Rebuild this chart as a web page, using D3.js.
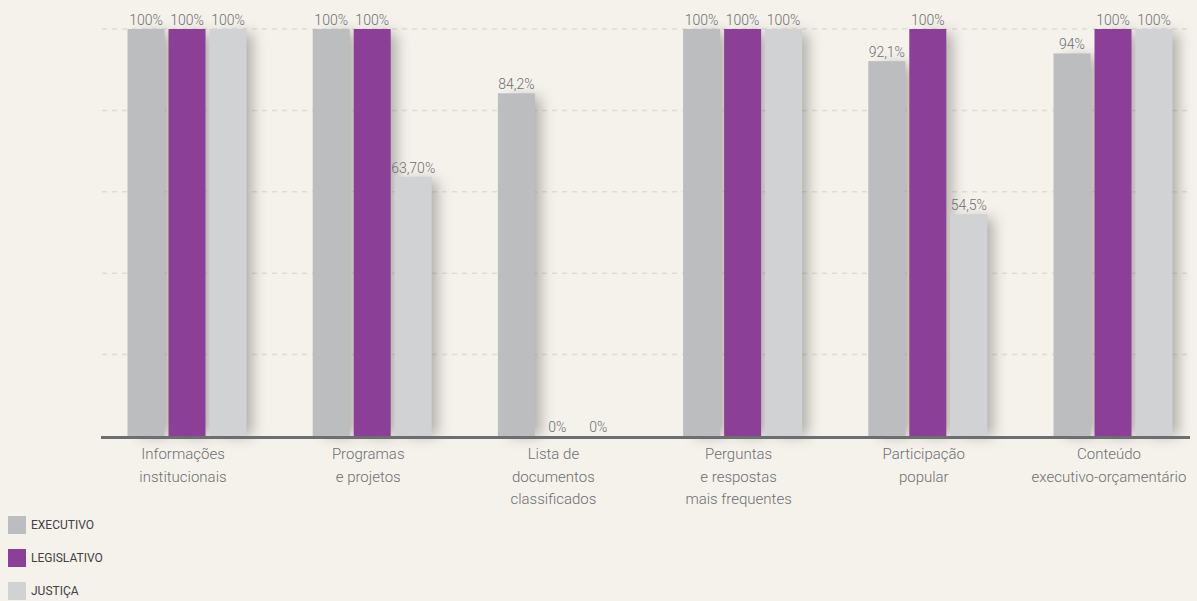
<!DOCTYPE html>
<html>
<head>
<meta charset="utf-8">
<script src="https://cdnjs.cloudflare.com/ajax/libs/d3/7.8.5/d3.min.js"></script>
<style>
    body { margin: 0; background: #f5f2ec; }
    #chart { width: 1197px; height: 601px; }
    text { font-family: Roboto, "Noto Sans", sans-serif; }
</style>
</head>
<body>
<div id="chart"></div>
<script>

// data
const categories = [
    "Informações\ninstitucionais",
    "Programas\ne projetos",
    "Lista de\ndocumentos\nclassificados",
    "Perguntas\ne respostas\nmais frequentes",
    "Participação\npopular",
    "Conteúdo\nexecutivo-orçamentário"
];
const seriesNames = ["EXECUTIVO", "LEGISLATIVO", "JUSTIÇA"];
const executivo = [100, 100, 84.2, 100, 92.1, 94];
const legislativo = [100, 100, 0, 100, 100, 100];
const justica = [100, 63.7, 0, 100, 54.5, 100];
const executivoLabels = ["100%", "100%", "84,2%", "100%", "92,1%", "94%"];
const legislativoLabels = ["100%", "100%", "0%", "100%", "100%", "100%"];
const justicaLabels = ["100%", "63,70%", "0%", "100%", "54,5%", "100%"];
const gridTicks = [20, 40, 60, 80, 100];
const seriesColors = ["#bcbdbf", "#8c3f96", "#d1d2d4"];


class GroupedBarVis {

    constructor(parentElement){
        this.parentElement = parentElement;
        this.initVis();
    }

    initVis(){
        let vis = this;

        vis.width = 1197;
        vis.height = 601;

        vis.svg = d3.select("#" + vis.parentElement).append("svg")
            .attr("width", vis.width)
            .attr("height", vis.height);

        // soft shadow to the right of the bars
        let defs = vis.svg.append("defs");
        let f = defs.append("filter")
            .attr("id", "barShadow")
            .attr("x", "-30%").attr("y", "-10%")
            .attr("width", "220%").attr("height", "130%");
        f.append("feGaussianBlur").attr("stdDeviation", 7);

        // scales
        vis.x = d3.scalePoint()
            .domain(categories)
            .range([187, 1113]);

        vis.xInner = d3.scaleBand()
            .domain(seriesNames)
            .range([-59.5, 59.5])
            .paddingInner(4 / 41);

        vis.y = d3.scaleLinear()
            .domain([0, 100])
            .range([436, 29]);

        vis.color = d3.scaleOrdinal()
            .domain(seriesNames)
            .range(seriesColors);

        vis.wrangleData();
    }

    wrangleData(){
        let vis = this;

        let values = [executivo, legislativo, justica];
        let labels = [executivoLabels, legislativoLabels, justicaLabels];

        vis.bars = [];
        categories.forEach((cat, i) => {
            seriesNames.forEach((s, j) => {
                vis.bars.push({
                    category: cat,
                    series: s,
                    value: values[j][i],
                    label: labels[j][i]
                });
            });
        });

        vis.updateVis();
    }

    updateVis(){
        let vis = this;

        // dashed grid
        vis.svg.append("g")
            .attr("class", "grid")
            .selectAll("line")
            .data(gridTicks)
            .join("line")
            .attr("x1", 102)
            .attr("x2", 1190)
            .attr("y1", d => vis.y(d))
            .attr("y2", d => vis.y(d))
            .attr("stroke", "#dedbd4")
            .attr("stroke-width", 1.5)
            .attr("stroke-dasharray", "5,5");

        let barX = d => vis.x(d.category) + vis.xInner(d.series);

        // shadows
        vis.svg.append("g")
            .attr("class", "shadows")
            .selectAll("rect")
            .data(vis.bars.filter(d => d.value > 0))
            .join("rect")
            .attr("x", d => barX(d) + 12)
            .attr("y", d => vis.y(d.value) + 4)
            .attr("width", vis.xInner.bandwidth() - 6)
            .attr("height", d => vis.y(0) - vis.y(d.value) - 4)
            .attr("fill", "#6d6b67")
            .attr("opacity", 0.5)
            .attr("filter", "url(#barShadow)");

        // bars
        vis.svg.append("g")
            .attr("class", "bars")
            .selectAll("rect")
            .data(vis.bars)
            .join("rect")
            .attr("x", d => barX(d))
            .attr("y", d => vis.y(d.value))
            .attr("width", vis.xInner.bandwidth())
            .attr("height", d => vis.y(0) - vis.y(d.value))
            .attr("fill", d => vis.color(d.series));

        // value labels
        vis.svg.append("g")
            .attr("class", "value-labels")
            .selectAll("text")
            .data(vis.bars)
            .join("text")
            .attr("x", d => barX(d) + vis.xInner.bandwidth() / 2)
            .attr("y", d => vis.y(d.value) - 4)
            .attr("text-anchor", "middle")
            .attr("font-size", 14)
            .attr("font-weight", 300)
            .attr("fill", "#6d6e71")
            .text(d => d.label);

        // axis line
        vis.svg.append("line")
            .attr("x1", 101)
            .attr("x2", 1190)
            .attr("y1", vis.y(0) + 1.5)
            .attr("y2", vis.y(0) + 1.5)
            .attr("stroke", "#6d6e71")
            .attr("stroke-width", 3);

        // category labels
        vis.svg.append("g")
            .attr("class", "x-labels")
            .selectAll("text")
            .data(categories)
            .join("text")
            .attr("x", d => vis.x(d) - 4)
            .attr("y", 459)
            .attr("text-anchor", "middle")
            .attr("font-size", 15)
            .attr("font-weight", 300)
            .attr("fill", "#6d6e71")
            .selectAll("tspan")
            .data(d => d.split("\n").map(t => ({t: t, cx: vis.x(d) - 4})))
            .join("tspan")
            .attr("x", d => d.cx)
            .attr("dy", (d, i) => i === 0 ? 0 : 22.5)
            .text(d => d.t);

        // legend
        let legend = vis.svg.append("g")
            .attr("class", "legend")
            .selectAll("g")
            .data(seriesNames)
            .join("g")
            .attr("transform", (d, i) => `translate(8, ${516 + i * 33})`);

        legend.append("rect")
            .attr("width", 18)
            .attr("height", 18)
            .attr("fill", d => vis.color(d));

        legend.append("text")
            .attr("x", 23)
            .attr("y", 13)
            .attr("font-size", 12)
            .attr("fill", "#414042")
            .text(d => d);
    }
}

new GroupedBarVis("chart");

</script>
</body>
</html>
